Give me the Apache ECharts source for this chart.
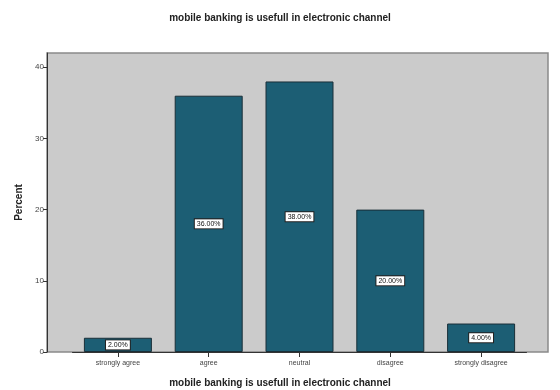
<!DOCTYPE html>
<html>
<head>
<meta charset="utf-8">
<script src="https://cdn.jsdelivr.net/npm/echarts@6/dist/echarts.min.js"></script>
<style>
  html, body { margin: 0; padding: 0; background: #fff; }
  #chart { width: 560px; height: 390px; }
</style>
</head>
<body>
<div id="chart"></div>
<script>
// data
const categories = ['strongly agree', 'agree', 'neutral', 'disagree', 'strongly disagree']
const percents = [2, 36, 38, 20, 4]
const yTicks = [0, 10, 20, 30, 40]

const titleText = 'mobile banking is usefull in electronic channel'

const chart = echarts.init(document.getElementById('chart'))

// frame of the plot area (wider than the bar grid, like SPSS)
const frame = { left: 47, top: 53, right: 548, bottom: 352 }

const option = {
  animation: false,
  backgroundColor: '#fff',
  textStyle: { fontFamily: 'Liberation Sans, Arial, sans-serif' },
  title: {
    text: titleText,
    left: 'center',
    top: 8,
    textStyle: { fontSize: 10, fontWeight: 'bold', color: '#222' }
  },
  graphic: [
    {
      type: 'rect',
      z: -1,
      shape: { x: frame.left, y: frame.top, width: frame.right - frame.left, height: frame.bottom - frame.top },
      style: { fill: '#cbcbcb', stroke: '#8a8a8a', lineWidth: 1.5 }
    },
    {
      type: 'text',
      left: 'center',
      top: 378,
      style: { text: titleText, font: 'bold 10px Liberation Sans, Arial, sans-serif', fill: '#222' }
    }
  ],
  grid: { left: 72.5, right: 33.5, top: frame.top, bottom: 390 - frame.bottom },
  xAxis: {
    type: 'category',
    data: categories,
    axisLine: { show: true, lineStyle: { color: '#333', width: 1 } },
    axisTick: { show: true, alignWithLabel: true, length: 5, lineStyle: { color: '#333' } },
    axisLabel: { fontSize: 7, color: '#444', margin: 8, interval: 0 }
  },
  yAxis: {
    type: 'value',
    min: 0,
    max: 42,
    interval: 10,
    offset: 25.5,
    name: 'Percent',
    nameLocation: 'middle',
    nameGap: 22,
    nameRotate: 90,
    nameTextStyle: { fontSize: 10, fontWeight: 'bold', color: '#222' },
    axisLine: { show: true, lineStyle: { color: '#333' } },
    axisTick: { show: true, length: 4, customValues: yTicks, lineStyle: { color: '#333' } },
    axisLabel: {
      fontSize: 8,
      color: '#444',
      margin: 3,
      customValues: yTicks
    },
    splitLine: { show: false }
  },
  series: [{
    type: 'bar',
    data: percents,
    barWidth: 68,
    itemStyle: { color: '#1c5e74', borderColor: '#1a2f38', borderWidth: 1 },
    label: {
      show: true,
      position: 'inside',
      formatter: p => p.value.toFixed(2) + '%',
      fontSize: 7,
      color: '#111',
      backgroundColor: '#fff',
      borderColor: '#222',
      borderWidth: 1,
      padding: [1, 2]
    }
  }]
}

chart.setOption(option)
</script>
</body>
</html>
